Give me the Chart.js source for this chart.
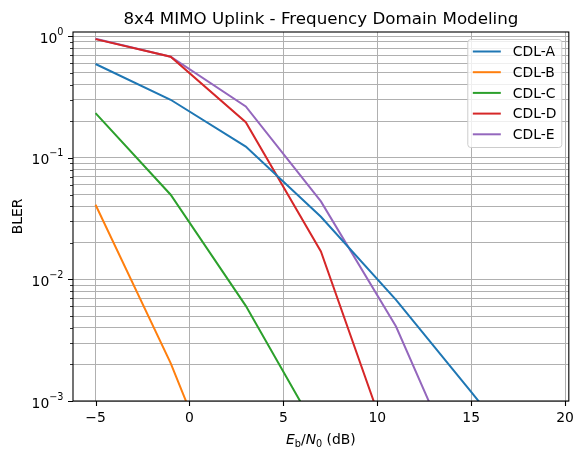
<!DOCTYPE html>
<html>
<head>
<meta charset="utf-8">
<script src="https://cdn.jsdelivr.net/npm/chart.js@4.4.0/dist/chart.umd.min.js"></script>
<style>
  html, body { margin: 0; padding: 0; background: #fff; }
  canvas { display: block; }
</style>
</head>
<body>
<canvas id="blerChart" width="583" height="458" style="width:583px;height:458px"></canvas>
<script>
// Eb/N0 points (dB)
const ebn0 = [-5, -1, 3, 7, 11, 15, 19];

// BLER per channel model (null = not plotted / below range)
const cdlA = [0.593, 0.301, 0.124, 0.0328, 0.0068, 0.00119, 0.0002];
const cdlB = [0.0412, 0.00205, 0.00006, null, null, null, null];
const cdlC = [0.234, 0.0498, 0.00607, 0.0005, null, null, null];
const cdlD = [0.95, 0.68, 0.197, 0.017, 0.0003, null, null];
const cdlE = [0.955, 0.68, 0.265, 0.0439, 0.0041, 0.00016, null];

const seriesNames = ["CDL-A", "CDL-B", "CDL-C", "CDL-D", "CDL-E"];
const seriesColors = ["#1f77b4", "#ff7f0e", "#2ca02c", "#d62728", "#9467bd"];

// axis ticks
const xTicks = [-5, 0, 5, 10, 15, 20];
const xTickLabels = ["\u22125", "0", "5", "10", "15", "20"];
const yMajor = [0.001, 0.01, 0.1, 1];
const yMajorExp = ["\u22123", "\u22122", "\u22121", "0"];
const yMinorSteps = [2, 3, 4, 5, 6, 7, 8, 9];

const chartTitle = "8x4 MIMO Uplink - Frequency Domain Modeling";
const yTitle = "BLER";

const FONT = "'DejaVu Sans', sans-serif";
Chart.defaults.font.family = FONT;
Chart.defaults.color = "#000";

// minor ticks inside the visible range
const yMinor = [];
yMajor.forEach((d) => {
  yMinorSteps.forEach((s) => {
    const v = d * s;
    if (v < 1.087) yMinor.push(v);
  });
});
const yAllTicks = yMajor.concat(yMinor).sort((a, b) => a - b);

const allSeries = [cdlA, cdlB, cdlC, cdlD, cdlE];
const datasets = allSeries.map((vals, i) => ({
  label: seriesNames[i],
  data: ebn0.map((x, j) => ({ x: x, y: vals[j] })),
  borderColor: seriesColors[i],
  backgroundColor: seriesColors[i],
  borderWidth: 2,
  pointRadius: 0,
  tension: 0,
  spanGaps: false,
  clip: 0,
}));

const decorPlugin = {
  id: "decor",
  afterDatasetsDraw(chart) {
    const ctx = chart.ctx;
    const a = chart.chartArea;
    const xs = chart.scales.x;
    const ys = chart.scales.y;
    ctx.save();

    // frame
    ctx.strokeStyle = "#000";
    ctx.lineWidth = 1.1;
    ctx.strokeRect(a.left, a.top, a.right - a.left, a.bottom - a.top);

    // tick marks
    ctx.lineWidth = 1.1;
    ctx.beginPath();
    xTicks.forEach((v) => {
      const px = Math.round(xs.getPixelForValue(v)) + 0.5;
      ctx.moveTo(px, a.bottom);
      ctx.lineTo(px, a.bottom + 5);
    });
    yMajor.forEach((v) => {
      const py = Math.round(ys.getPixelForValue(v)) + 0.5;
      ctx.moveTo(a.left, py);
      ctx.lineTo(a.left - 5, py);
    });
    ctx.stroke();
    ctx.lineWidth = 0.8;
    ctx.beginPath();
    yMinor.forEach((v) => {
      const py = Math.round(ys.getPixelForValue(v)) + 0.5;
      ctx.moveTo(a.left, py);
      ctx.lineTo(a.left - 3, py);
    });
    ctx.stroke();

    // y tick labels 10^n
    ctx.fillStyle = "#000";
    ctx.textBaseline = "alphabetic";
    ctx.textAlign = "left";
    yMajor.forEach((v, i) => {
      const py = ys.getPixelForValue(v);
      ctx.font = "9.7px " + FONT;
      const ew = ctx.measureText(yMajorExp[i]).width;
      ctx.font = "13.9px " + FONT;
      const bw = ctx.measureText("10").width;
      const right = a.left - 9.5;
      const x0 = right - ew - bw;
      ctx.fillText("10", x0, py + 6.5);
      ctx.font = "9.7px " + FONT;
      ctx.fillText(yMajorExp[i], x0 + bw, py - 1.5);
    });

    // title
    const cx = (a.left + a.right) / 2;
    ctx.textAlign = "center";
    ctx.font = "16.7px " + FONT;
    ctx.fillText(chartTitle, cx, a.top - 8);

    // y title
    ctx.save();
    ctx.translate(22, (a.top + a.bottom) / 2);
    ctx.rotate(-Math.PI / 2);
    ctx.font = "13.9px " + FONT;
    ctx.textAlign = "center";
    ctx.fillText(yTitle, 0, 0);
    ctx.restore();

    // x title: E_b/N_0 (dB)
    const parts = [
      { t: "E", f: "italic 13.9px " + FONT, dy: 0 },
      { t: "b", f: "9.7px " + FONT, dy: 3 },
      { t: "/", f: "13.9px " + FONT, dy: 0 },
      { t: "N", f: "italic 13.9px " + FONT, dy: 0 },
      { t: "0", f: "9.7px " + FONT, dy: 3 },
      { t: " (dB)", f: "13.9px " + FONT, dy: 0 },
    ];
    let total = 0;
    parts.forEach((p) => {
      ctx.font = p.f;
      p.w = ctx.measureText(p.t).width;
      total += p.w;
    });
    let px = cx - total / 2;
    ctx.textAlign = "left";
    const base = 444;
    parts.forEach((p) => {
      ctx.font = p.f;
      ctx.fillText(p.t, px, base + p.dy);
      px += p.w;
    });

    // legend
    const lx = a.right - 7 - 94;
    const ly = a.top + 7.5;
    const lw = 94;
    const lh = 108;
    const r = 3;
    ctx.beginPath();
    ctx.moveTo(lx + r, ly);
    ctx.lineTo(lx + lw - r, ly);
    ctx.quadraticCurveTo(lx + lw, ly, lx + lw, ly + r);
    ctx.lineTo(lx + lw, ly + lh - r);
    ctx.quadraticCurveTo(lx + lw, ly + lh, lx + lw - r, ly + lh);
    ctx.lineTo(lx + r, ly + lh);
    ctx.quadraticCurveTo(lx, ly + lh, lx, ly + lh - r);
    ctx.lineTo(lx, ly + r);
    ctx.quadraticCurveTo(lx, ly, lx + r, ly);
    ctx.closePath();
    ctx.fillStyle = "rgba(255,255,255,0.8)";
    ctx.fill();
    ctx.strokeStyle = "#cccccc";
    ctx.lineWidth = 1;
    ctx.stroke();

    ctx.font = "13.9px " + FONT;
    ctx.textBaseline = "middle";
    chart.data.datasets.forEach((ds, i) => {
      const y = ly + 12 + i * 20.7;
      ctx.strokeStyle = ds.borderColor;
      ctx.lineWidth = 2;
      ctx.beginPath();
      ctx.moveTo(lx + 5, y);
      ctx.lineTo(lx + 33, y);
      ctx.stroke();
      ctx.fillStyle = "#000";
      ctx.fillText(ds.label, lx + 45, y + 1);
    });

    ctx.restore();
  },
};

const ctx = document.getElementById("blerChart").getContext("2d");
new Chart(ctx, {
  type: "line",
  data: { datasets: datasets },
  options: {
    responsive: false,
    animation: false,
    layout: { padding: { top: 32, right: 14, left: 0, bottom: 0 } },
    plugins: {
      legend: { display: false },
      tooltip: { enabled: false },
      title: { display: false },
    },
    scales: {
      x: {
        type: "linear",
        min: -6.2,
        max: 20.2,
        afterBuildTicks(scale) {
          scale.ticks = xTicks.map((v) => ({ value: v }));
        },
        afterFit(scale) {
          scale.height = 57;
        },
        ticks: {
          autoSkip: false,
          maxRotation: 0,
          padding: 9,
          font: { size: 13.9 },
          callback: (v) => {
            const i = xTicks.indexOf(v);
            return i >= 0 ? xTickLabels[i] : "";
          },
        },
        grid: { color: "#b0b0b0", lineWidth: 1, drawTicks: false },
        border: { display: false },
      },
      y: {
        type: "logarithmic",
        min: 0.001,
        max: 1.087,
        afterBuildTicks(scale) {
          scale.ticks = yAllTicks.map((v) => ({ value: v }));
        },
        afterFit(scale) {
          scale.width = 73;
        },
        ticks: {
          autoSkip: false,
          padding: 10,
          font: { size: 13.9 },
          callback: () => "",
        },
        grid: { color: "#b0b0b0", lineWidth: 1, drawTicks: false },
        border: { display: false },
      },
    },
  },
  plugins: [decorPlugin],
});
</script>
</body>
</html>
